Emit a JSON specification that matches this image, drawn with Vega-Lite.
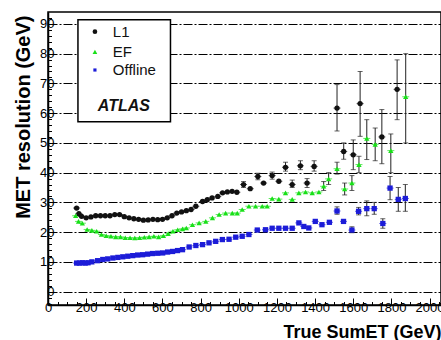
{
  "$schema": "https://vega.github.io/schema/vega-lite/v6.json",
  "width": 393,
  "height": 293,
  "autosize": {"type": "none"},
  "padding": {"left": 48, "top": 12, "right": 0, "bottom": 35},
  "config": {
    "font": "Liberation Sans",
    "view": {"stroke": "black", "strokeWidth": 1.5},
    "axis": {"labelColor": "black", "tickColor": "black", "domainColor": "black", "titleColor": "black", "labelFont": "Liberation Sans", "titleFont": "Liberation Sans"}
  },
  "datasets": {
    "pts": [
      {"s": "L1", "x": 150, "y": 28.1},
      {"s": "L1", "x": 162, "y": 26.2},
      {"s": "L1", "x": 176, "y": 25.3},
      {"s": "L1", "x": 200, "y": 24.8},
      {"s": "L1", "x": 225, "y": 25.1},
      {"s": "L1", "x": 250, "y": 25.5},
      {"s": "L1", "x": 275, "y": 25.5},
      {"s": "L1", "x": 300, "y": 25.5},
      {"s": "L1", "x": 325, "y": 25.5},
      {"s": "L1", "x": 350, "y": 25.9},
      {"s": "L1", "x": 375, "y": 25.9},
      {"s": "L1", "x": 400, "y": 25.2},
      {"s": "L1", "x": 425, "y": 24.8},
      {"s": "L1", "x": 450, "y": 24.5},
      {"s": "L1", "x": 475, "y": 24.3},
      {"s": "L1", "x": 500, "y": 24.0},
      {"s": "L1", "x": 525, "y": 24.1},
      {"s": "L1", "x": 550, "y": 24.3},
      {"s": "L1", "x": 575, "y": 24.2},
      {"s": "L1", "x": 600, "y": 24.3},
      {"s": "L1", "x": 625, "y": 24.8},
      {"s": "L1", "x": 650, "y": 25.5},
      {"s": "L1", "x": 675, "y": 26.4},
      {"s": "L1", "x": 700, "y": 26.8},
      {"s": "L1", "x": 725, "y": 27.2},
      {"s": "L1", "x": 750, "y": 27.6},
      {"s": "L1", "x": 775, "y": 28.7},
      {"s": "L1", "x": 810, "y": 30.3},
      {"s": "L1", "x": 835, "y": 30.9},
      {"s": "L1", "x": 860, "y": 31.5},
      {"s": "L1", "x": 890, "y": 32.0},
      {"s": "L1", "x": 915, "y": 33.2},
      {"s": "L1", "x": 940, "y": 33.5},
      {"s": "L1", "x": 965, "y": 33.7},
      {"s": "L1", "x": 990, "y": 33.4},
      {"s": "L1", "x": 1025, "y": 36.0, "lo": 35.0, "hi": 37.0},
      {"s": "L1", "x": 1060, "y": 34.6},
      {"s": "L1", "x": 1100, "y": 38.7, "lo": 37.6, "hi": 39.8},
      {"s": "L1", "x": 1130, "y": 36.5},
      {"s": "L1", "x": 1175, "y": 39.0, "lo": 37.8, "hi": 40.2},
      {"s": "L1", "x": 1210, "y": 37.1},
      {"s": "L1", "x": 1245, "y": 41.8, "lo": 40.5, "hi": 43.5},
      {"s": "L1", "x": 1280, "y": 36.0, "lo": 35.0, "hi": 37.5},
      {"s": "L1", "x": 1323, "y": 42.3, "lo": 41.0, "hi": 44.0},
      {"s": "L1", "x": 1358, "y": 36.5, "lo": 35.0, "hi": 38.0},
      {"s": "L1", "x": 1395, "y": 42.1, "lo": 40.5, "hi": 44.0},
      {"s": "L1", "x": 1515, "y": 61.7, "lo": 54.0, "hi": 69.6},
      {"s": "L1", "x": 1550, "y": 47.1, "lo": 44.5, "hi": 50.0},
      {"s": "L1", "x": 1600, "y": 46.0, "lo": 41.0, "hi": 51.0},
      {"s": "L1", "x": 1636, "y": 63.2, "lo": 52.2, "hi": 74.0},
      {"s": "L1", "x": 1750, "y": 52.0, "lo": 43.0, "hi": 61.2},
      {"s": "L1", "x": 1830, "y": 68.0, "lo": 57.8, "hi": 77.9},
      {"s": "EF", "x": 145, "y": 25.5},
      {"s": "EF", "x": 160, "y": 23.6},
      {"s": "EF", "x": 180, "y": 23.0},
      {"s": "EF", "x": 205, "y": 20.9},
      {"s": "EF", "x": 230, "y": 20.6},
      {"s": "EF", "x": 255, "y": 20.3},
      {"s": "EF", "x": 280, "y": 19.2},
      {"s": "EF", "x": 305, "y": 18.8},
      {"s": "EF", "x": 330, "y": 18.6},
      {"s": "EF", "x": 355, "y": 18.4},
      {"s": "EF", "x": 380, "y": 18.4},
      {"s": "EF", "x": 405, "y": 18.1},
      {"s": "EF", "x": 430, "y": 18.1},
      {"s": "EF", "x": 455, "y": 18.0},
      {"s": "EF", "x": 480, "y": 18.1},
      {"s": "EF", "x": 505, "y": 18.3},
      {"s": "EF", "x": 530, "y": 18.4},
      {"s": "EF", "x": 555, "y": 18.6},
      {"s": "EF", "x": 580, "y": 18.4},
      {"s": "EF", "x": 605, "y": 18.8},
      {"s": "EF", "x": 630, "y": 19.5},
      {"s": "EF", "x": 655, "y": 20.3},
      {"s": "EF", "x": 680, "y": 20.8},
      {"s": "EF", "x": 705, "y": 21.1},
      {"s": "EF", "x": 725, "y": 21.4},
      {"s": "EF", "x": 757, "y": 22.5},
      {"s": "EF", "x": 792, "y": 23.1},
      {"s": "EF", "x": 827, "y": 23.6},
      {"s": "EF", "x": 862, "y": 24.8},
      {"s": "EF", "x": 897, "y": 25.9},
      {"s": "EF", "x": 931, "y": 26.4},
      {"s": "EF", "x": 966, "y": 26.4},
      {"s": "EF", "x": 992, "y": 26.4},
      {"s": "EF", "x": 1018, "y": 27.6},
      {"s": "EF", "x": 1053, "y": 28.7},
      {"s": "EF", "x": 1088, "y": 28.7},
      {"s": "EF", "x": 1123, "y": 28.7},
      {"s": "EF", "x": 1149, "y": 28.7},
      {"s": "EF", "x": 1175, "y": 31.3},
      {"s": "EF", "x": 1210, "y": 31.1},
      {"s": "EF", "x": 1245, "y": 33.2},
      {"s": "EF", "x": 1280, "y": 31.0},
      {"s": "EF", "x": 1315, "y": 33.2},
      {"s": "EF", "x": 1350, "y": 33.5},
      {"s": "EF", "x": 1385, "y": 33.2},
      {"s": "EF", "x": 1420, "y": 33.5},
      {"s": "EF", "x": 1445, "y": 35.4, "lo": 34.0, "hi": 37.0},
      {"s": "EF", "x": 1471, "y": 37.9, "lo": 36.0, "hi": 40.0},
      {"s": "EF", "x": 1515, "y": 41.3, "lo": 39.5, "hi": 43.5},
      {"s": "EF", "x": 1555, "y": 34.5, "lo": 32.5, "hi": 36.5},
      {"s": "EF", "x": 1593, "y": 36.5, "lo": 34.0, "hi": 39.0},
      {"s": "EF", "x": 1630, "y": 42.7, "lo": 40.0, "hi": 45.5},
      {"s": "EF", "x": 1671, "y": 51.5, "lo": 44.4, "hi": 57.8},
      {"s": "EF", "x": 1715, "y": 49.5, "lo": 44.0, "hi": 55.0},
      {"s": "EF", "x": 1797, "y": 47.4, "lo": 40.0, "hi": 53.0},
      {"s": "EF", "x": 1875, "y": 65.5, "lo": 50.0, "hi": 80.0},
      {"s": "Offline", "x": 150, "y": 9.6},
      {"s": "Offline", "x": 165, "y": 9.6},
      {"s": "Offline", "x": 180, "y": 9.7},
      {"s": "Offline", "x": 195, "y": 9.6},
      {"s": "Offline", "x": 210, "y": 9.7},
      {"s": "Offline", "x": 230, "y": 10.0},
      {"s": "Offline", "x": 260, "y": 10.4},
      {"s": "Offline", "x": 287, "y": 10.8},
      {"s": "Offline", "x": 313, "y": 11.0},
      {"s": "Offline", "x": 340, "y": 11.3},
      {"s": "Offline", "x": 366, "y": 11.5},
      {"s": "Offline", "x": 392, "y": 11.7},
      {"s": "Offline", "x": 418, "y": 11.9},
      {"s": "Offline", "x": 444, "y": 12.1},
      {"s": "Offline", "x": 470, "y": 12.3},
      {"s": "Offline", "x": 496, "y": 12.4},
      {"s": "Offline", "x": 522, "y": 12.6},
      {"s": "Offline", "x": 548, "y": 12.8},
      {"s": "Offline", "x": 575, "y": 12.9},
      {"s": "Offline", "x": 601, "y": 13.0},
      {"s": "Offline", "x": 627, "y": 13.3},
      {"s": "Offline", "x": 653, "y": 13.5},
      {"s": "Offline", "x": 679, "y": 13.8},
      {"s": "Offline", "x": 705, "y": 14.1},
      {"s": "Offline", "x": 740, "y": 15.0},
      {"s": "Offline", "x": 775, "y": 15.5},
      {"s": "Offline", "x": 810, "y": 15.8},
      {"s": "Offline", "x": 844, "y": 16.4},
      {"s": "Offline", "x": 879, "y": 16.9},
      {"s": "Offline", "x": 914, "y": 17.5},
      {"s": "Offline", "x": 949, "y": 17.6},
      {"s": "Offline", "x": 984, "y": 18.3},
      {"s": "Offline", "x": 1018, "y": 18.6},
      {"s": "Offline", "x": 1053, "y": 19.2},
      {"s": "Offline", "x": 1097, "y": 20.7},
      {"s": "Offline", "x": 1140, "y": 20.8},
      {"s": "Offline", "x": 1175, "y": 21.3},
      {"s": "Offline", "x": 1210, "y": 21.3},
      {"s": "Offline", "x": 1245, "y": 21.3},
      {"s": "Offline", "x": 1280, "y": 21.3},
      {"s": "Offline", "x": 1315, "y": 23.1},
      {"s": "Offline", "x": 1341, "y": 21.9},
      {"s": "Offline", "x": 1367, "y": 21.4},
      {"s": "Offline", "x": 1401, "y": 23.6},
      {"s": "Offline", "x": 1436, "y": 22.5},
      {"s": "Offline", "x": 1475, "y": 23.3},
      {"s": "Offline", "x": 1515, "y": 27.1, "lo": 26.0, "hi": 28.5},
      {"s": "Offline", "x": 1549, "y": 23.6},
      {"s": "Offline", "x": 1593, "y": 20.7, "lo": 19.8, "hi": 21.8},
      {"s": "Offline", "x": 1628, "y": 27.0, "lo": 25.8, "hi": 28.3},
      {"s": "Offline", "x": 1671, "y": 27.9, "lo": 25.5, "hi": 30.5},
      {"s": "Offline", "x": 1710, "y": 27.9, "lo": 26.0, "hi": 30.0},
      {"s": "Offline", "x": 1755, "y": 22.9, "lo": 21.3, "hi": 24.5},
      {"s": "Offline", "x": 1793, "y": 34.8, "lo": 30.9, "hi": 38.7},
      {"s": "Offline", "x": 1836, "y": 31.0, "lo": 27.0, "hi": 35.0},
      {"s": "Offline", "x": 1873, "y": 31.3, "lo": 27.0, "hi": 36.0}
    ]
  },
  "data": {"name": "pts"},
  "layer": [
    {
      "data": {"values": [{"box": 1}]},
      "mark": {"type": "rect", "fill": "white", "stroke": "black", "strokeWidth": 1.5},
      "encoding": {
        "x": {"datum": 157, "type": "quantitative", "scale": {"domain": [0, 2060], "nice": false, "zero": false}, "axis": null},
        "x2": {"datum": 642},
        "y": {"datum": 91.4, "type": "quantitative", "scale": {"domain": [-4.5, 94], "nice": false, "zero": false}, "axis": null},
        "y2": {"datum": 57.1}
      }
    },
    {
      "transform": [{"filter": "isValid(datum.lo)"}],
      "mark": {"type": "rule", "color": "#222222", "strokeWidth": 1},
      "encoding": {
        "x": {"field": "x", "type": "quantitative", "axis": null},
        "y": {"field": "lo", "type": "quantitative", "axis": null},
        "y2": {"field": "hi"}
      }
    },
    {
      "transform": [{"filter": "isValid(datum.lo)"}],
      "mark": {"type": "tick", "orient": "horizontal", "size": 5, "thickness": 1, "color": "#222222"},
      "encoding": {
        "x": {"field": "x", "type": "quantitative", "axis": null},
        "y": {"field": "lo", "type": "quantitative", "axis": null}
      }
    },
    {
      "transform": [{"filter": "isValid(datum.hi)"}],
      "mark": {"type": "tick", "orient": "horizontal", "size": 5, "thickness": 1, "color": "#222222"},
      "encoding": {
        "x": {"field": "x", "type": "quantitative", "axis": null},
        "y": {"field": "hi", "type": "quantitative", "axis": null}
      }
    },
    {
      "mark": {"type": "tick", "orient": "horizontal", "size": 7, "thickness": 1},
      "encoding": {
        "x": {"field": "x", "type": "quantitative", "axis": {"orient": "bottom", "values": [50,100,150,250,300,350,450,500,550,650,700,750,850,900,950,1050,1100,1150,1250,1300,1350,1450,1500,1550,1650,1700,1750,1850,1900,1950,2050], "labels": false, "domain": false, "grid": false, "tickSize": -3.5, "tickWidth": 1, "title": null}},
        "y": {"field": "y", "type": "quantitative", "axis": {"orient": "left", "values": [-4,-2,2,4,6,8,12,14,16,18,22,24,26,28,32,34,36,38,42,44,46,48,52,54,56,58,62,64,66,68,72,74,76,78,82,84,86,88,92], "labels": false, "domain": false, "grid": false, "tickSize": -3.5, "tickWidth": 1, "title": null}},
        "fill": {"field": "s", "type": "nominal", "scale": {"domain": ["L1", "EF", "Offline"], "range": ["#111111", "#18e018", "#1c1cd8"]}, "legend": null}
      }
    },
    {
      "mark": {"type": "point", "filled": true, "opacity": 1},
      "encoding": {
        "x": {"field": "x", "type": "quantitative", "axis": {"orient": "bottom", "values": [0,200,400,600,800,1000,1200,1400,1600,1800,2000], "format": "d", "grid": false, "tickSize": -7, "tickWidth": 1, "domainWidth": 1.5, "labelFontSize": 13, "labelPadding": 3, "labelFlush": false, "labelOverlap": false, "title": "True SumET (GeV)", "titleFontSize": 18, "titleFontWeight": "bold", "titleX": 393, "titleY": 27, "titleAlign": "right", "titleBaseline": "middle", "titleAnchor": null}},
        "y": {"field": "y", "type": "quantitative", "axis": {"orient": "left", "values": [0,10,20,30,40,50,60,70,80,90], "grid": true, "gridColor": "black", "gridDash": [9,2,2,2], "gridWidth": 1, "gridOpacity": 1, "tickSize": -7, "tickWidth": 1, "domainWidth": 1.5, "labelFontSize": 13, "labelPadding": 1, "labelFlush": false, "labelOverlap": false, "title": "MET resolution (GeV)", "titleFontSize": 20, "titleFontWeight": "bold", "titleX": -25, "titleY": 3, "titleAngle": -90, "titleAlign": "right", "titleBaseline": "middle", "titleAnchor": null}},
        "color": {"field": "s", "type": "nominal", "scale": {"domain": ["L1", "EF", "Offline"], "range": ["#111111", "#18e018", "#1c1cd8"]}, "legend": null},
        "shape": {"field": "s", "type": "nominal", "scale": {"domain": ["L1", "EF", "Offline"], "range": ["circle", "triangle-up", "square"]}, "legend": null},
        "size": {"field": "s", "type": "nominal", "scale": {"domain": ["L1", "EF", "Offline"], "range": [28, 28, 12]}, "legend": null}
      }
    },
    {
      "data": {"values": [{"k": "L1"}]},
      "mark": {"type": "point", "filled": true, "opacity": 1, "shape": "circle", "size": 22, "color": "#111111"},
      "encoding": {"x": {"datum": 246, "type": "quantitative", "axis": null}, "y": {"datum": 87.4, "type": "quantitative", "axis": null}}
    },
    {
      "data": {"values": [{"k": "EF"}]},
      "mark": {"type": "point", "filled": true, "opacity": 1, "shape": "triangle-up", "size": 22, "color": "#18e018"},
      "encoding": {"x": {"datum": 246, "type": "quantitative", "axis": null}, "y": {"datum": 80.6, "type": "quantitative", "axis": null}}
    },
    {
      "data": {"values": [{"k": "Offline"}]},
      "mark": {"type": "point", "filled": true, "opacity": 1, "shape": "square", "size": 10, "color": "#1c1cd8"},
      "encoding": {"x": {"datum": 246, "type": "quantitative", "axis": null}, "y": {"datum": 74.5, "type": "quantitative", "axis": null}}
    },
    {
      "data": {"values": [{"t": "L1", "ly": 87.4}, {"t": "EF", "ly": 80.6}, {"t": "Offline", "ly": 74.5}]},
      "mark": {"type": "text", "font": "Liberation Sans", "fontSize": 15, "color": "#111111", "align": "left", "baseline": "middle"},
      "encoding": {
        "x": {"datum": 340, "type": "quantitative", "axis": null},
        "y": {"field": "ly", "type": "quantitative", "axis": null},
        "text": {"field": "t", "type": "nominal"}
      }
    },
    {
      "data": {"values": [{"t": "ATLAS"}]},
      "mark": {"type": "text", "font": "Liberation Sans", "fontSize": 16, "fontWeight": "bold", "fontStyle": "italic", "color": "#111111", "align": "center", "baseline": "middle"},
      "encoding": {
        "x": {"datum": 398, "type": "quantitative", "axis": null},
        "y": {"datum": 62.4, "type": "quantitative", "axis": null},
        "text": {"field": "t", "type": "nominal"}
      }
    }
  ],
  "resolve": {"axis": {"x": "independent", "y": "independent"}}
}
